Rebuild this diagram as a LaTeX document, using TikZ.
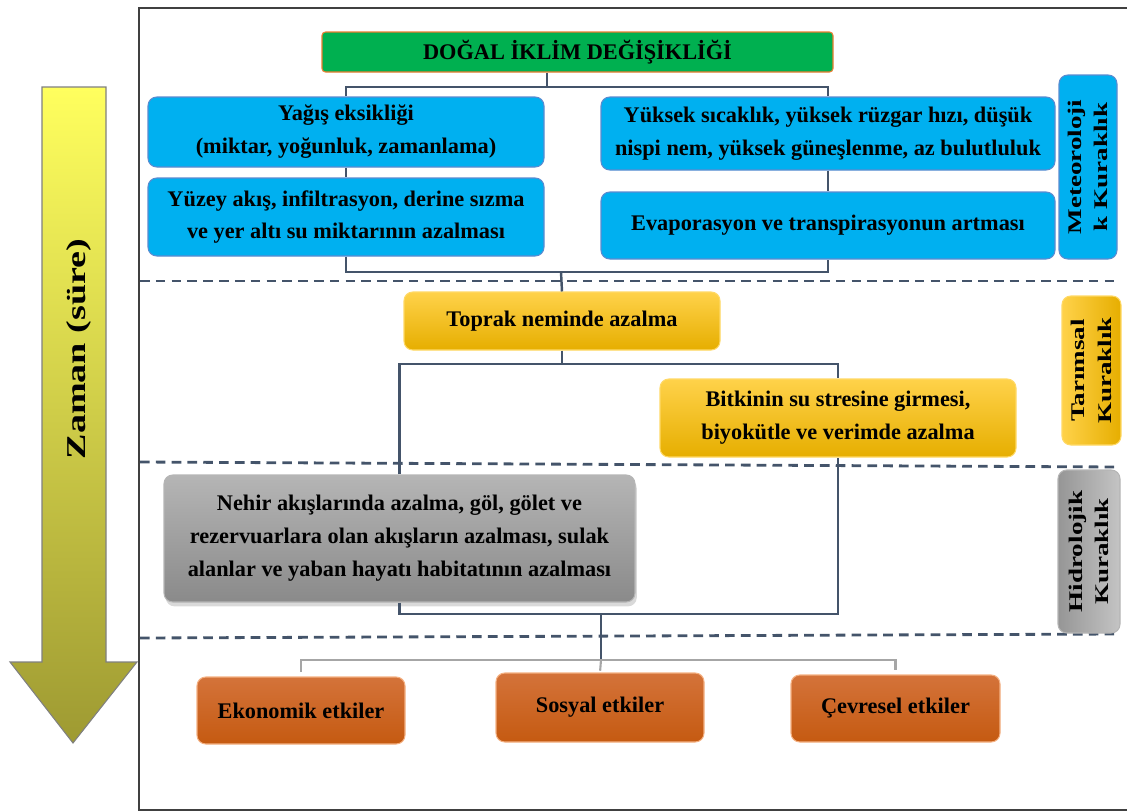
\documentclass[tikz,border=0pt]{standalone}
\usepackage{fontspec}
\setmainfont{Liberation Serif}
\newfontfamily\tallfont{Liberation Serif}[FakeStretch=1.4]
\usetikzlibrary{positioning,shadows}

\definecolor{skyblue}{HTML}{00B0F0}
\definecolor{blueedge}{HTML}{5B8BD0}
\definecolor{leafgreen}{HTML}{00B050}
\definecolor{greenedge}{HTML}{ED7D31}
\definecolor{ambertop}{HTML}{FFD24A}
\definecolor{amberbot}{HTML}{E6AE00}
\definecolor{amberedge}{HTML}{FFD966}
\definecolor{greytop}{HTML}{B5B5B5}
\definecolor{greybot}{HTML}{8A8A8A}
\definecolor{rusttop}{HTML}{D4733A}
\definecolor{rustbot}{HTML}{C55A11}
\definecolor{rustedge}{HTML}{F4B183}
\definecolor{slate}{HTML}{44546A}
\definecolor{lightline}{HTML}{A6A6A6}
\definecolor{arrowtop}{HTML}{FFFF5E}
\definecolor{arrowbot}{HTML}{9E9A32}

\begin{document}
\begin{tikzpicture}[x=0.02cm,y=-0.02cm,
	sz/.style 2 args={minimum width=#1*0.02cm, minimum height=#2*0.02cm},
	box/.style={rounded corners=5pt, inner sep=0pt, align=center, font=\bfseries\fontsize{12.7}{18.7}\selectfont},
	titlebox/.style={box, rounded corners=2pt, fill=leafgreen, draw=greenedge, line width=0.6pt},
	skybox/.style={box, fill=skyblue, draw=blueedge, line width=0.6pt},
	amberbox/.style={box, top color=ambertop, bottom color=amberbot, draw=amberedge, line width=0.6pt},
	greybox/.style={box, top color=greytop, bottom color=greybot, draw=greytop, line width=0.6pt, drop shadow={opacity=0.3, shadow xshift=1pt, shadow yshift=-2.5pt}},
	rustbox/.style={box, top color=rusttop, bottom color=rustbot, draw=rustedge, line width=0.6pt},
	sidebox/.style={box, rotate=90, font=\tallfont\bfseries\fontsize{11}{15}\selectfont},
	link/.style={draw=slate, line width=1.4pt},
	sublink/.style={draw=lightline, line width=1.2pt},
	sep/.style={draw=slate, line width=1.6pt, dash pattern=on 5.5pt off 3.5pt}]

	\useasboundingbox (0,0) rectangle (1127,812);

	% frame and time arrow
	\draw[black!75, line width=0.9pt] (1127,8) -- (139,8) -- (139,810) -- (1127,810);
	\shade[top color=arrowtop, bottom color=arrowbot, draw=gray, line width=0.6pt]
		(42,87) -- (106,87) -- (106,662) -- (137,662) -- (73,743) -- (10,662) -- (42,662) -- cycle;
	\node[rotate=90, font=\tallfont\bfseries\fontsize{15.5}{18}\selectfont] (time) at (79,349) {Zaman (süre)};

	% separators
	\draw[sep] (140,281) -- (1117,281);
	\draw[sep] (140,462) -- (1117,467);
	\draw[sep] (140,638) -- (1117,634);

	% nodes
	\node[titlebox, sz={511}{40}] (title) at (577.5,52) {DOĞAL İKLİM DEĞİŞİKLİĞİ};
	\node[skybox, sz={396}{70}] (rain) at (346,132) {Yağış eksikliği\\(miktar, yoğunluk, zamanlama)};
	\node[skybox, sz={396}{78}] (runoff) at (346,217) {Yüzey akış, infiltrasyon, derine sızma\\ve yer altı su miktarının azalması};
	\node[skybox, sz={454}{73}] (heat) at (828,133.5) {Yüksek sıcaklık, yüksek rüzgar hızı, düşük\\nispi nem, yüksek güneşlenme, az bulutluluk};
	\node[skybox, sz={454}{67}] (evap) at (828,225.5) {Evaporasyon ve transpirasyonun artması};
	\node[amberbox, sz={316}{58}] (soil) at (562,321) {Toprak neminde azalma};
	\node[amberbox, sz={356}{78}] (crop) at (838,418) {Bitkinin su stresine girmesi,\\biyokütle ve verimde azalma};
	\node[greybox, sz={471}{127}] (river) at (399.5,538.5) {Nehir akışlarında azalma, göl, gölet ve\\rezervuarlara olan akışların azalması, sulak\\alanlar ve yaban hayatı habitatının azalması};
	\node[rustbox, sz={208}{67}] (eko) at (301,710.5) {Ekonomik etkiler};
	\node[rustbox, sz={208}{69}] (sos) at (600,707.5) {Sosyal etkiler};
	\node[rustbox, sz={209}{67}] (cev) at (895.5,708.5) {Çevresel etkiler};

	% drought labels
	\node[sidebox, sz={184}{58}, fill=skyblue, draw=blueedge, line width=0.6pt] (meteo) at (1088,167) {Meteoroloji\\k Kuraklık};
	\node[sidebox, sz={149}{59}, left color=ambertop, right color=amberbot, draw=amberedge, line width=0.6pt] (tarim) at (1091.5,370.5) {Tarımsal\\Kuraklık};
	\node[sidebox, sz={163}{62}, left color=greybot!90, right color=greytop!80, draw=greytop, line width=0.6pt] (hydro) at (1089,551.5) {Hidrolojik\\Kuraklık};

	% connectors
	\coordinate (j1) at (547,87);
	\coordinate (j2) at (561,272);
	\coordinate (j3) at (562,364);
	\coordinate (j4) at (601,614);
	\coordinate (j5) at (601,660);

	\draw[link] (title.south -| j1) -- (j1);
	\draw[link] (rain.north) |- (j1) -| (heat.north);
	\draw[link] (rain.south) -- (runoff.north);
	\draw[link] (heat.south) -- (evap.north);
	\draw[link] (runoff.south) |- (j2) -| (evap.south);
	\draw[link] (j2) -- (soil.north);
	\draw[link] (soil.south) -- (j3);
	\draw[link] (river.north) |- (j3) -| (crop.north);
	\draw[link] (river.south) |- (j4) -| (crop.south);
	\draw[link] (j4) -- (j5);
	\draw[sublink, shorten <=2.5pt, shorten >=2.5pt] (eko.north) |- (j5) -| (cev.north);
	\draw[sublink, shorten >=1pt] (j5) -- (sos.north);

\end{tikzpicture}
\end{document}
